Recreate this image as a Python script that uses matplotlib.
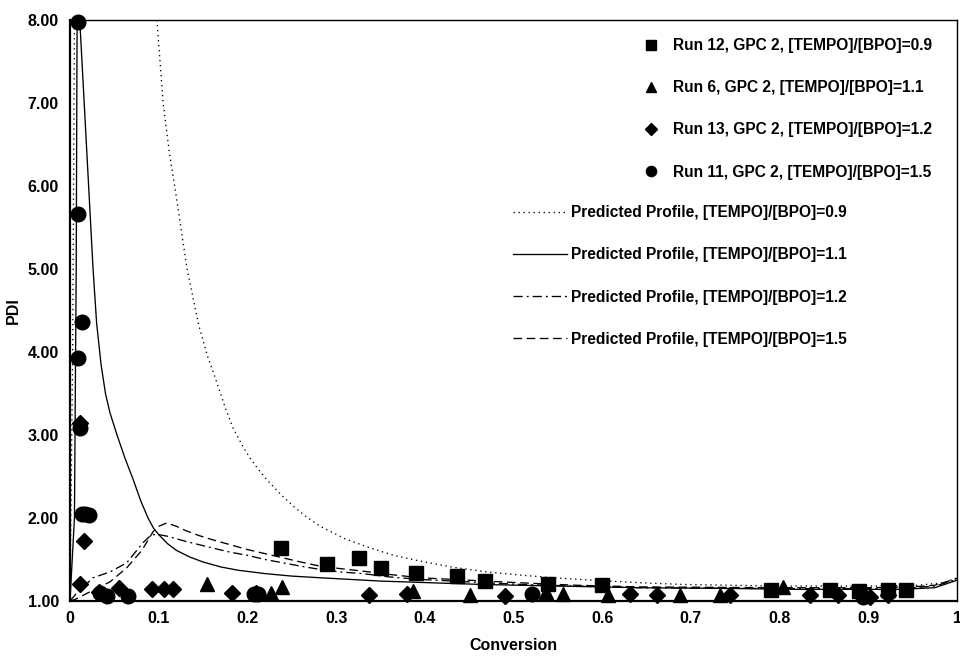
"""
PDI vs conversion: GPC data for four [TEMPO]/[BPO] runs against the predicted profiles.
"""
import numpy as np
import matplotlib
matplotlib.use("Agg")
import matplotlib.pyplot as plt

plt.rcParams["font.family"] = ["Liberation Sans", "DejaVu Sans"]
plt.rcParams["font.weight"] = "bold"

nan = np.nan

# --- measured points (GPC 2) ---
run12_x = [0.238, 0.290, 0.326, 0.351, 0.390, 0.436, 0.468, 0.539, 0.600, 0.790, 0.857, 0.890, 0.922, 0.943]
run12_y = [1.64, 1.44, 1.52, 1.40, 1.34, 1.30, 1.24, 1.21, 1.19, 1.13, 1.13, 1.12, 1.13, 1.13]

run6_x = [0.154, 0.227, 0.239, 0.387, 0.451, 0.537, 0.556, 0.606, 0.688, 0.733, 0.804]
run6_y = [1.20, 1.10, 1.17, 1.12, 1.07, 1.11, 1.09, 1.07, 1.07, 1.07, 1.17]

run13_x = [0.011, 0.011, 0.016, 0.033, 0.055, 0.092, 0.106, 0.116, 0.183, 0.210, 0.337, 0.380,
           0.490, 0.631, 0.662, 0.744, 0.834, 0.866, 0.902, 0.922]
run13_y = [3.15, 1.20, 1.72, 1.11, 1.16, 1.14, 1.15, 1.14, 1.10, 1.10, 1.07, 1.08,
           1.06, 1.08, 1.07, 1.07, 1.07, 1.07, 1.05, 1.07]

run11_x = [0.009, 0.009, 0.0135, 0.009, 0.011, 0.0135, 0.017, 0.021, 0.034, 0.042, 0.065, 0.207, 0.212, 0.521, 0.894]
run11_y = [7.97, 5.66, 4.36, 3.93, 3.08, 2.05, 2.05, 2.04, 1.10, 1.06, 1.06, 1.09, 1.08, 1.09, 1.05]

# --- predicted profiles (nan = curve leaves the plotted range) ---
pred09_x = [0.0, 0.003, 0.005, nan, 0.098, 0.105, 0.112, 0.118, 0.125, 0.132, 0.145, 0.155, 0.166, 0.175,
            0.184, 0.195, 0.203, 0.212, 0.222, 0.237, 0.252, 0.267, 0.282, 0.310, 0.338, 0.365, 0.395,
            0.430, 0.470, 0.510, 0.545, 0.590, 0.643, 0.690, 0.744, 0.800, 0.857, 0.910, 0.955, 0.985, 1.0]
pred09_y = [1.0, 4.0, 8.0, nan, 8.0, 7.0, 6.4, 6.0, 5.5, 5.0, 4.33, 3.95, 3.62, 3.33,
            3.08, 2.86, 2.72, 2.59, 2.46, 2.29, 2.14, 2.01, 1.90, 1.75, 1.64, 1.55, 1.48,
            1.41, 1.35, 1.31, 1.28, 1.25, 1.22, 1.20, 1.19, 1.18, 1.18, 1.18, 1.19, 1.22, 1.28]

pred11_x = [0.0, 0.005, 0.007, 0.008, nan, 0.011, 0.016, 0.021, 0.026, 0.030, 0.035, 0.040, 0.045,
            0.053, 0.062, 0.071, 0.080, 0.088, 0.094, 0.100, 0.110, 0.120, 0.135, 0.150, 0.170,
            0.190, 0.220, 0.250, 0.282, 0.350, 0.462, 0.550, 0.643, 0.750, 0.823, 0.936, 0.975, 1.0]
pred11_y = [1.0, 2.0, 5.0, 8.0, nan, 8.0, 7.0, 6.0, 5.0, 4.35, 3.85, 3.50, 3.27,
            3.00, 2.72, 2.47, 2.20, 2.00, 1.88, 1.80, 1.69, 1.61, 1.53, 1.47, 1.41,
            1.37, 1.33, 1.30, 1.28, 1.24, 1.20, 1.18, 1.16, 1.15, 1.14, 1.14, 1.16, 1.25]

pred12_x = [0.0, 0.008, 0.026, 0.045, 0.064, 0.082, 0.092, 0.100, 0.110, 0.120, 0.130, 0.145, 0.160,
            0.180, 0.200, 0.220, 0.240, 0.260, 0.282, 0.305, 0.330, 0.360, 0.395, 0.450, 0.507,
            0.570, 0.643, 0.720, 0.800, 0.900, 0.950, 0.975, 1.0]
pred12_y = [1.0, 1.10, 1.28, 1.35, 1.46, 1.70, 1.80, 1.80, 1.78, 1.75, 1.72, 1.68, 1.64,
            1.59, 1.55, 1.50, 1.46, 1.42, 1.38, 1.35, 1.33, 1.29, 1.26, 1.23, 1.20,
            1.18, 1.16, 1.155, 1.15, 1.15, 1.16, 1.18, 1.26]

pred15_x = [0.0, 0.006, 0.026, 0.045, 0.064, 0.081, 0.094, 0.100, 0.109, 0.120, 0.130, 0.145, 0.160,
            0.180, 0.200, 0.220, 0.240, 0.260, 0.282, 0.305, 0.330, 0.360, 0.395, 0.450, 0.507,
            0.570, 0.643, 0.720, 0.800, 0.900, 0.950, 0.975, 1.0]
pred15_y = [1.0, 1.02, 1.13, 1.23, 1.40, 1.61, 1.84, 1.90, 1.94, 1.90, 1.85, 1.79, 1.74,
            1.68, 1.62, 1.57, 1.52, 1.47, 1.42, 1.39, 1.36, 1.32, 1.28, 1.25, 1.22,
            1.19, 1.17, 1.165, 1.16, 1.16, 1.17, 1.19, 1.27]

x_ticks = [0, 0.1, 0.2, 0.3, 0.4, 0.5, 0.6, 0.7, 0.8, 0.9, 1.0]
x_ticklabels = ["0", "0.1", "0.2", "0.3", "0.4", "0.5", "0.6", "0.7", "0.8", "0.9", "1"]
y_ticks = [1, 2, 3, 4, 5, 6, 7, 8]
y_ticklabels = ["1.00", "2.00", "3.00", "4.00", "5.00", "6.00", "7.00", "8.00"]

W, H = 960, 663
fig = plt.figure(figsize=(W / 100, H / 100), dpi=100)
ax = fig.add_axes([70 / W, 1 - 601 / H, (957 - 70) / W, (601 - 20) / H])

LW = 0.95
l09, = ax.plot(pred09_x, pred09_y, color="black", lw=LW, ls=(0, (1, 2.8)))
l11, = ax.plot(pred11_x, pred11_y, color="black", lw=LW, ls="-")
l12, = ax.plot(pred12_x, pred12_y, color="black", lw=LW, ls=(0, (7, 3, 1.5, 3)))
l15, = ax.plot(pred15_x, pred15_y, color="black", lw=LW, ls=(0, (6.5, 3.5)))

MS = 10.5
p12, = ax.plot(run12_x, run12_y, "s", color="black", ms=MS * 0.95, ls="none", clip_on=False)
p6, = ax.plot(run6_x, run6_y, "^", color="black", ms=MS, ls="none", clip_on=False)
p13, = ax.plot(run13_x, run13_y, "D", color="black", ms=MS * 0.8, ls="none", clip_on=False)
p11, = ax.plot(run11_x, run11_y, "o", color="black", ms=MS, ls="none", clip_on=False)

ax.set_xlim(0, 1)
ax.set_ylim(1, 8)
ax.set_xticks(x_ticks, x_ticklabels)
ax.set_yticks(y_ticks, y_ticklabels)
ax.tick_params(axis="both", length=0, labelsize=11.5)
ax.tick_params(axis="y", pad=8)
ax.tick_params(axis="x", pad=7)
for s in ("left", "bottom"):
    ax.spines[s].set_linewidth(1.6)
for s in ("top", "right"):
    ax.spines[s].set_linewidth(1.0)
ax.set_xlabel("Conversion", fontsize=11.5, fontweight="bold", labelpad=9)
ax.set_ylabel("PDI", fontsize=11.5, fontweight="bold", labelpad=5)

FS = 11.2
fs_px = FS * 100 / 72
ROW = 41.8
common = dict(frameon=False, borderpad=0, borderaxespad=0, fontsize=FS,
              labelspacing=(ROW - 14.6) / fs_px, loc="upper left", bbox_transform=fig.transFigure)
leg1 = ax.legend([p12, p6, p13, p11],
                 ["Run 12, GPC 2, [TEMPO]/[BPO]=0.9", "Run 6, GPC 2, [TEMPO]/[BPO]=1.1",
                  "Run 13, GPC 2, [TEMPO]/[BPO]=1.2", "Run 11, GPC 2, [TEMPO]/[BPO]=1.5"],
                 handlelength=1.0, handletextpad=(22 - fs_px / 2) / fs_px, markerscale=0.7,
                 bbox_to_anchor=((651 - fs_px / 2) / W, 1 - 38 / H), **common)
ax.add_artist(leg1)
ax.legend([l09, l11, l12, l15],
          ["Predicted Profile, [TEMPO]/[BPO]=0.9", "Predicted Profile, [TEMPO]/[BPO]=1.1",
           "Predicted Profile, [TEMPO]/[BPO]=1.2", "Predicted Profile, [TEMPO]/[BPO]=1.5"],
          handlelength=54 / fs_px, handletextpad=4 / fs_px,
          bbox_to_anchor=(513 / W, 1 - (38 + 4 * ROW) / H), **common)

fig.savefig("out.png", dpi=100)
